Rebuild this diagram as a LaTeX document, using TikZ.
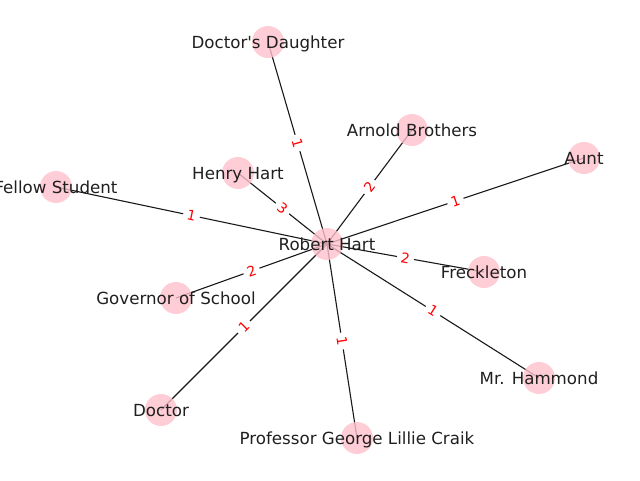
\documentclass[tikz,border=0pt]{standalone}
\usepackage{fontspec}
\setmainfont{DejaVu Sans}
\usepackage{tikz}
\usetikzlibrary{backgrounds}
\definecolor{nodepink}{RGB}{255,192,203}

\begin{document}
\begin{tikzpicture}[x=1pt,y=-1pt,
    vertex/.style={circle,fill=nodepink,fill opacity=0.8,minimum size=32pt,inner sep=0pt},
    vtext/.style={font=\fontsize{16.67}{20}\selectfont,text=black!88,text height=12.7pt,text depth=3.5pt,inner sep=0pt,text opacity=1,yshift=-1.5pt},
    edge/.style={line width=1.1pt,black!90},
    wlabel/.style={midway,sloped,font=\fontsize{13.9}{16}\selectfont,text=red,fill=white,rounded corners=3pt,inner xsep=4pt,inner ysep=2pt}]
    \useasboundingbox (0,0) rectangle (640,480);

    % 頂点を定義
    \node[vertex,label={[vtext]center:Robert Hart}] (rh) at (327,244) {};
    \node[vertex,label={[vtext]center:Doctor\textquotesingle s Daughter}] (dd) at (268,42) {};
    \node[vertex,label={[vtext]center:Arnold Brothers}] (ab) at (412,130) {};
    \node[vertex,label={[vtext]center:Aunt}] (au) at (584,158) {};
    \node[vertex,label={[vtext]center:Henry Hart}] (hh) at (238,173) {};
    \node[vertex,label={[vtext]center:Fellow Student}] (fs) at (56,187) {};
    \node[vertex,label={[vtext]center:Freckleton}] (fr) at (484,272) {};
    \node[vertex,label={[vtext]center:Governor of School}] (gs) at (176,298) {};
    \node[vertex,label={[vtext]center:Mr. Hammond}] (mh) at (539,378) {};
    \node[vertex,label={[vtext]center:Doctor}] (dr) at (161,410) {};
    \node[vertex,label={[vtext]center:Professor George Lillie Craik}] (pc) at (357,438) {};

    % 辺を描く
    \begin{scope}[on background layer]
        \draw[edge] (rh.center)--(dd.center)node[wlabel]{1};
        \draw[edge] (rh.center)--(ab.center)node[wlabel]{2};
        \draw[edge] (rh.center)--(au.center)node[wlabel]{1};
        \draw[edge] (rh.center)--(hh.center)node[wlabel]{3};
        \draw[edge] (rh.center)--(fs.center)node[wlabel]{1};
        \draw[edge] (rh.center)--(fr.center)node[wlabel]{2};
        \draw[edge] (rh.center)--(gs.center)node[wlabel]{2};
        \draw[edge] (rh.center)--(mh.center)node[wlabel]{1};
        \draw[edge] (rh.center)--(dr.center)node[wlabel]{1};
        \draw[edge] (rh.center)--(pc.center)node[wlabel]{1};
    \end{scope}

\end{tikzpicture}
\end{document}
